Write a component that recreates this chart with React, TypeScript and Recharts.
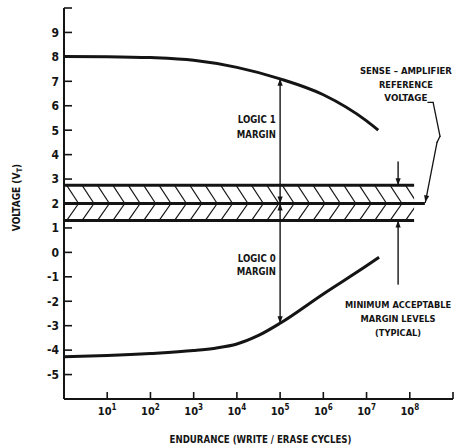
import React from 'react';
import { LineChart, Line, XAxis, YAxis, ReferenceLine, ReferenceArea, ReferenceDot, Label } from 'recharts';

const FONT = "'Liberation Sans Narrow', 'DejaVu Sans Condensed', 'Arial Narrow', sans-serif";
const INK = '#141414';

// x values are log10(write/erase cycles)
const upperCycleExp = [0, 1, 2, 3, 4, 5, 6, 7, 7.27];
const upperVoltage = [8.02, 8.01, 7.97, 7.86, 7.57, 7.1, 6.45, 5.38, 5.0];
const lowerCycleExp = [0, 1, 2, 3, 3.5, 4, 4.5, 5, 6, 7, 7.29];
const lowerVoltage = [-4.27, -4.22, -4.14, -4.02, -3.92, -3.75, -3.4, -2.9, -1.7, -0.55, -0.2];

const xTickExponents = [1, 2, 3, 4, 5, 6, 7, 8, 9];
const xLabeledMax = 8;
const xTickBase = '10';
const yTickValues = [-6, -5, -4, -3, -2, -1, 0, 1, 2, 3, 4, 5, 6, 7, 8, 9, 10];
const yLabeledMin = -5;
const yLabeledMax = 9;

const bandTopV = 2.75;
const refV = 2.0;
const bandBottomV = 1.3;
const bandEndExp = 8.1;
const refEndExp = 8.35;

const marginExp = 5;
const logic1V = 7.1;
const logic0V = -2.9;

const minMarginExp = 7.73;
const minUpperStartV = 3.7;
const minLowerStartV = -1.3;

const bracketExp = [8.42, 8.54, 8.7, 8.63, 8.36];
const bracketV = [6.14, 6.14, 4.75, 4.5, 2.05];

const senseLines = ['SENSE – AMPLIFIER', 'REFERENCE', 'VOLTAGE'];
const senseWidths = [92, 54, 43];
const senseAt = { x: 7.91, y: 7.28 };
const logic1Lines = ['LOGIC 1', 'MARGIN'];
const logic1Widths = [38, 39];
const logic1At = { x: 4.9, y: 5.28 };
const logic0Lines = ['LOGIC 0', 'MARGIN'];
const logic0Widths = [38, 39];
const logic0At = { x: 4.9, y: -0.41 };
const minLines = ['MINIMUM ACCEPTABLE', 'MARGIN LEVELS', '(TYPICAL)'];
const minWidths = [106, 75, 46];
const minAt = { x: 7.73, y: -2.29 };

const xTitle = 'ENDURANCE (WRITE / ERASE CYCLES)';
const xTitleWidth = 182;
const yTitle = 'VOLTAGE (V';
const yTitleSub = 'T';

const upperData = upperCycleExp.map((x, i) => ({ x, v: upperVoltage[i] }));
const lowerData = lowerCycleExp.map((x, i) => ({ x, v: lowerVoltage[i] }));

function arrowHead(x: number, y: number, ux: number, uy: number, key: string) {
  const L = 7;
  const W = 2.6;
  const bx = x - ux * L;
  const by = y - uy * L;
  const px = -uy;
  const py = ux;
  return (
    <polygon
      key={key}
      points={`${x},${y} ${bx + px * W},${by + py * W} ${bx - px * W},${by - py * W}`}
      fill={INK}
    />
  );
}

const makeArrow = (start: boolean, end: boolean, width = 1.4) => (p: any) => {
  const { x1, y1, x2, y2 } = p;
  const dx = x2 - x1;
  const dy = y2 - y1;
  const len = Math.hypot(dx, dy) || 1;
  const ux = dx / len;
  const uy = dy / len;
  return (
    <g>
      <line x1={x1} y1={y1} x2={x2} y2={y2} stroke={INK} strokeWidth={width} strokeLinecap="round" />
      {end && arrowHead(x2, y2, ux, uy, 'e')}
      {start && arrowHead(x1, y1, -ux, -uy, 's')}
    </g>
  );
};

const makeHatch = (dir: 'down' | 'up', id: string) => (p: any) => {
  const { x, y, width, height } = p;
  const period = 15.4;
  const run = 12;
  const lines: React.ReactNode[] = [];
  for (let k = -2; x + 2.6 + k * period < x + width + run; k++) {
    const xs = x + 2.6 + k * period;
    if (dir === 'down') {
      lines.push(<line key={k} x1={xs} y1={y} x2={xs + run} y2={y + height} stroke={INK} strokeWidth={1.2} />);
    } else {
      lines.push(<line key={k} x1={xs} y1={y + height} x2={xs + run} y2={y} stroke={INK} strokeWidth={1.2} />);
    }
  }
  return (
    <g>
      <defs>
        <clipPath id={id}>
          <rect x={x} y={y} width={width} height={height} />
        </clipPath>
      </defs>
      <g clipPath={`url(#${id})`}>{lines}</g>
    </g>
  );
};

const makeText = (
  lines: string[],
  widths: number[],
  anchor: 'start' | 'middle' | 'end',
  lineHeight: number,
  size: number,
) => (p: any) => (
  <g>
    {lines.map((l, i) => (
      <text
        key={i}
        x={p.cx}
        y={p.cy + i * lineHeight}
        textAnchor={anchor}
        fontFamily={FONT}
        fontWeight="bold"
        fontSize={size}
        fill={INK}
        textLength={widths[i]}
        lengthAdjust="spacingAndGlyphs"
      >
        {l}
      </text>
    ))}
  </g>
);

const XTick = (p: any) => {
  const { x, y, payload } = p;
  const e = payload.value;
  return (
    <g>
      <line x1={x} y1={y} x2={x} y2={y - 7} stroke={INK} strokeWidth={1.6} />
      {e <= xLabeledMax && (
        <text x={x} y={y + 16} textAnchor="middle" fontFamily={FONT} fontWeight="bold" fontSize={11} fill={INK}>
          {xTickBase}
          <tspan dy={-5} fontSize={8}>
            {e}
          </tspan>
        </text>
      )}
    </g>
  );
};

const YTick = (p: any) => {
  const { x, y, payload } = p;
  const v = payload.value;
  return (
    <g>
      <line x1={x} y1={y} x2={x + 8} y2={y} stroke={INK} strokeWidth={1.6} />
      {v >= yLabeledMin && v <= yLabeledMax && (
        <text x={x - 5} y={y} dy="0.36em" textAnchor="end" fontFamily={FONT} fontWeight="bold" fontSize={12} fill={INK}>
          {v}
        </text>
      )}
    </g>
  );
};

const XTitle = (p: any) => {
  const vb = p.viewBox || { x: 64, y: 399, width: 389, height: 47 };
  return (
    <text
      x={vb.x + vb.width / 2 + 2}
      y={vb.y + 44}
      textAnchor="middle"
      fontFamily={FONT}
      fontWeight="bold"
      fontSize={11}
      fill={INK}
      textLength={xTitleWidth}
      lengthAdjust="spacingAndGlyphs"
    >
      {xTitle}
    </text>
  );
};

const YTitle = (p: any) => {
  const vb = p.viewBox || { x: 0, y: 8, width: 64, height: 391 };
  const cx = vb.x + 16;
  const cy = vb.y + vb.height / 2 - 6;
  return (
    <text
      x={cx}
      y={cy}
      transform={`rotate(-90 ${cx} ${cy})`}
      textAnchor="middle"
      dominantBaseline="central"
      fontFamily={FONT}
      fontWeight="bold"
      fontSize={10}
      fill={INK}
    >
      {yTitle}
      <tspan dy={3} fontSize={7.5}>
        {yTitleSub}
      </tspan>
      <tspan dy={-3}>)</tspan>
    </text>
  );
};

export default function App() {
  const bracketSegments = bracketExp.slice(0, -1).map((x, i) => ({
    a: { x, y: bracketV[i] },
    b: { x: bracketExp[i + 1], y: bracketV[i + 1] },
    last: i === bracketExp.length - 2,
  }));
  return (
    <div style={{ position: 'absolute', left: 0, top: 0, background: '#fff' }}>
      <LineChart width={459} height={446} margin={{ top: 8, right: 6, bottom: 0, left: 0 }}>
        <XAxis
          dataKey="x"
          type="number"
          domain={[0, 9]}
          ticks={xTickExponents}
          interval={0}
          allowDuplicatedCategory={false}
          height={47}
          tickSize={0}
          tickMargin={0}
          tickLine={false}
          tick={<XTick />}
          axisLine={{ stroke: INK, strokeWidth: 2 }}
        >
          <Label content={<XTitle />} />
        </XAxis>
        <YAxis
          type="number"
          domain={[-6, 10]}
          ticks={yTickValues}
          interval={0}
          width={64}
          tickSize={0}
          tickMargin={0}
          tickLine={false}
          tick={<YTick />}
          axisLine={{ stroke: INK, strokeWidth: 2 }}
        >
          <Label content={<YTitle />} />
        </YAxis>

        <ReferenceArea x1={0} x2={bandEndExp} y1={refV} y2={bandTopV} shape={makeHatch('down', 'hatchTop')} ifOverflow="visible" />
        <ReferenceArea x1={0} x2={bandEndExp} y1={bandBottomV} y2={refV} shape={makeHatch('up', 'hatchBottom')} ifOverflow="visible" />
        <ReferenceLine segment={[{ x: 0, y: bandTopV }, { x: bandEndExp, y: bandTopV }]} stroke={INK} strokeWidth={3} />
        <ReferenceLine segment={[{ x: 0, y: refV }, { x: refEndExp, y: refV }]} stroke={INK} strokeWidth={3} />
        <ReferenceLine segment={[{ x: 0, y: bandBottomV }, { x: bandEndExp, y: bandBottomV }]} stroke={INK} strokeWidth={3} />

        <ReferenceLine segment={[{ x: marginExp, y: refV }, { x: marginExp, y: logic1V }]} shape={makeArrow(true, true)} />
        <ReferenceLine segment={[{ x: marginExp, y: refV }, { x: marginExp, y: logic0V }]} shape={makeArrow(true, true)} />
        <ReferenceLine segment={[{ x: minMarginExp, y: minUpperStartV }, { x: minMarginExp, y: bandTopV }]} shape={makeArrow(false, true)} />
        <ReferenceLine segment={[{ x: minMarginExp, y: minLowerStartV }, { x: minMarginExp, y: bandBottomV }]} shape={makeArrow(false, true)} />
        {bracketSegments.map((s, i) => (
          <ReferenceLine key={`br${i}`} segment={[s.a, s.b]} shape={makeArrow(false, s.last, 1.3)} ifOverflow="visible" />
        ))}

        <Line data={upperData} dataKey="v" type="monotone" stroke={INK} strokeWidth={3} dot={false} isAnimationActive={false} />
        <Line data={lowerData} dataKey="v" type="monotone" stroke={INK} strokeWidth={3} dot={false} isAnimationActive={false} />

        <ReferenceDot x={senseAt.x} y={senseAt.y} r={0} shape={makeText(senseLines, senseWidths, 'middle', 13.5, 9.5)} ifOverflow="visible" />
        <ReferenceDot x={logic1At.x} y={logic1At.y} r={0} shape={makeText(logic1Lines, logic1Widths, 'end', 15, 10)} ifOverflow="visible" />
        <ReferenceDot x={logic0At.x} y={logic0At.y} r={0} shape={makeText(logic0Lines, logic0Widths, 'end', 13, 10)} ifOverflow="visible" />
        <ReferenceDot x={minAt.x} y={minAt.y} r={0} shape={makeText(minLines, minWidths, 'middle', 14, 9.5)} ifOverflow="visible" />
      </LineChart>
    </div>
  );
}
